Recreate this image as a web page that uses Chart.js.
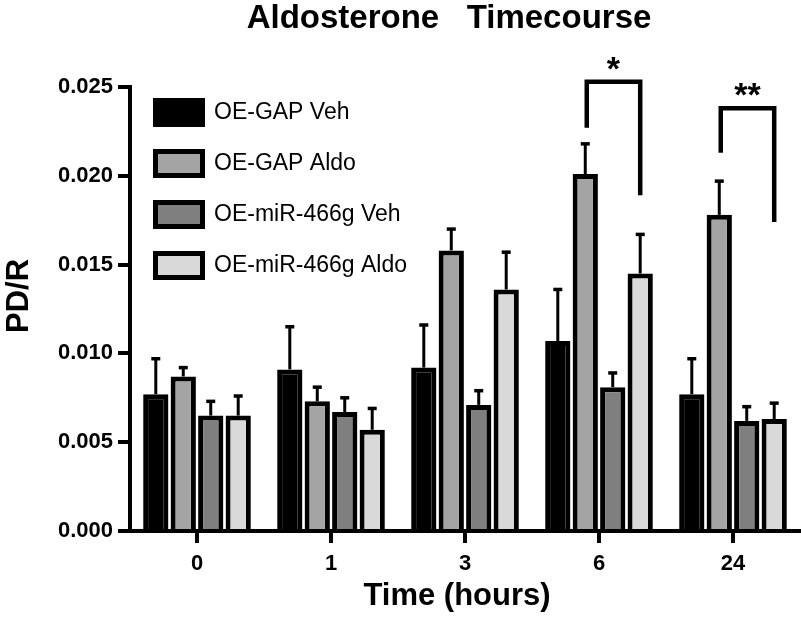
<!DOCTYPE html>
<html>
<head>
<meta charset="utf-8">
<script src="https://cdn.jsdelivr.net/npm/chart.js@4.4.0/dist/chart.umd.min.js"></script>
<style>
html,body{margin:0;padding:0;background:#fff;}
#wrap{width:801px;height:623px;position:relative;}
canvas{display:block;}
</style>
</head>
<body>
<div id="wrap"><canvas id="c" width="801" height="623"></canvas></div>
<script>
// ---- data ----
const categories = ['0', '1', '3', '6', '24'];
const seriesNames = ['OE-GAP Veh', 'OE-GAP Aldo', 'OE-miR-466g Veh', 'OE-miR-466g Aldo'];

const gapVeh     = [0.0077, 0.0091, 0.0092, 0.0107, 0.0077];
const gapVehErr  = [0.0020, 0.0024, 0.0024, 0.0029, 0.0020];
const gapAldo    = [0.0087, 0.0073, 0.0158, 0.0201, 0.0178];
const gapAldoErr = [0.0005, 0.0008, 0.0012, 0.0017, 0.0019];
const mirVeh     = [0.0065, 0.0067, 0.0071, 0.0081, 0.0062];
const mirVehErr  = [0.0008, 0.0008, 0.0008, 0.0008, 0.0008];
const mirAldo    = [0.0065, 0.0057, 0.0136, 0.0145, 0.0063];
const mirAldoErr = [0.0011, 0.0012, 0.0021, 0.0022, 0.0009];

const yTickValues = [0.000, 0.005, 0.010, 0.015, 0.020, 0.025];

// significance brackets (between OE-GAP Aldo and OE-miR-466g Aldo)
const sigCategories = ['6', '24'];
const sigLabels     = ['*', '**'];
const sigTop        = [0.0253, 0.0238];
const sigLeftEnd    = [0.0227, 0.0213];
const sigRightEnd   = [0.0189, 0.0174];

// ---- styling ----
const fills = ['#000000', '#a4a4a4', '#7f7f7f', '#d9d9d9'];
const FONT = '"Liberation Sans", Arial, Helvetica, sans-serif';
Chart.defaults.font.family = FONT;
Chart.defaults.color = '#000';

const values = [gapVeh, gapAldo, mirVeh, mirAldo];
const errors = [gapVehErr, gapAldoErr, mirVehErr, mirAldoErr];

const datasets = values.map((d, i) => ({
  label: seriesNames[i],
  data: d,
  backgroundColor: fills[i],
  borderColor: '#000',
  borderWidth: 5,
  borderSkipped: 'start',
  categoryPercentage: 0.82,
  barPercentage: 0.92
}));

const errorBarPlugin = {
  id: 'errorBars',
  afterDatasetsDraw(chart) {
    const ctx = chart.ctx;
    const ys = chart.scales.y;
    ctx.save();
    ctx.strokeStyle = '#000';
    ctx.fillStyle = '#000';
    errors.forEach((errs, i) => {
      const meta = chart.getDatasetMeta(i);
      meta.data.forEach((bar, j) => {
        const yTop = ys.getPixelForValue(values[i][j] + errs[j]);
        ctx.lineWidth = 3;
        ctx.beginPath();
        ctx.moveTo(bar.x, bar.y);
        ctx.lineTo(bar.x, yTop);
        ctx.stroke();
        ctx.lineWidth = 3.5;
        ctx.beginPath();
        ctx.moveTo(bar.x - 4.5, yTop);
        ctx.lineTo(bar.x + 4.5, yTop);
        ctx.stroke();
      });
    });
    // brackets
    const mLeft = chart.getDatasetMeta(1), mRight = chart.getDatasetMeta(3);
    sigCategories.forEach((cat, k) => {
      const j = categories.indexOf(cat);
      const xl = mLeft.data[j].x + 1.5;
      const xr = mRight.data[j].x;
      const yt = ys.getPixelForValue(sigTop[k]);
      ctx.lineWidth = 4.5;
      ctx.lineJoin = 'miter';
      ctx.lineCap = 'butt';
      ctx.beginPath();
      ctx.moveTo(xl, ys.getPixelForValue(sigLeftEnd[k]));
      ctx.lineTo(xl, yt);
      ctx.lineTo(xr, yt);
      ctx.lineTo(xr, ys.getPixelForValue(sigRightEnd[k]));
      ctx.stroke();
      ctx.font = 'bold 34px ' + FONT;
      ctx.textAlign = 'center';
      ctx.textBaseline = 'alphabetic';
      ctx.fillText(sigLabels[k], (xl + xr) / 2, yt - 2);
    });
    ctx.restore();
  }
};

const textPlugin = {
  id: 'texts',
  afterDraw(chart) {
    const ctx = chart.ctx;
    ctx.save();
    ctx.fillStyle = '#000';
    ctx.textAlign = 'center';
    ctx.textBaseline = 'alphabetic';
    ctx.font = 'bold 33px ' + FONT;
    ctx.fillText('Aldosterone   Timecourse', 449, 28);
    ctx.font = 'bold 31px ' + FONT;
    ctx.fillText('Time (hours)', 457, 605);
    ctx.translate(28, 296);
    ctx.rotate(-Math.PI / 2);
    ctx.fillText('PD/R', 0, 0);
    ctx.restore();
  }
};

const legendPlace = {
  id: 'legendPlace',
  afterLayout(chart) {
    const l = chart.legend;
    if (l) {
      l.left = chart.chartArea.left - 1.5;
      l.top = chart.chartArea.top - 13.5;
    }
  }
};

new Chart(document.getElementById('c'), {
  type: 'bar',
  data: { labels: categories, datasets },
  options: {
    responsive: false,
    animation: false,
    devicePixelRatio: 1,
    layout: { padding: { top: 87, right: 1, left: 0, bottom: 0 } },
    plugins: {
      title: { display: false },
      tooltip: { enabled: false },
      legend: {
        display: true,
        position: 'chartArea',
        align: 'start',
        labels: {
          boxWidth: 47,
          boxHeight: 24,
          padding: 27,
          color: '#000',
          font: { size: 23, weight: 'normal', family: FONT }
        }
      }
    },
    scales: {
      x: {
        offset: true,
        grid: { display: true, drawOnChartArea: false, offset: false, color: '#000', lineWidth: 4, tickLength: 12 },
        border: { display: true, color: '#000', width: 4 },
        ticks: { color: '#000', padding: 8, font: { size: 22, weight: 'bold', family: FONT } },
        afterFit(scale) { scale.height = 92; }
      },
      y: {
        min: 0,
        max: 0.025,
        afterBuildTicks(scale) { scale.ticks = yTickValues.map(v => ({ value: v })); },
        grid: { display: true, drawOnChartArea: false, color: '#000', lineWidth: 4, tickLength: 12 },
        border: { display: true, color: '#000', width: 4 },
        ticks: {
          color: '#000',
          padding: 5,
          font: { size: 22, weight: 'bold', family: FONT },
          callback: (v) => Number(v).toFixed(3)
        },
        afterFit(scale) { scale.width = 130; }
      }
    }
  },
  plugins: [legendPlace, errorBarPlugin, textPlugin]
});
</script>
</body>
</html>
